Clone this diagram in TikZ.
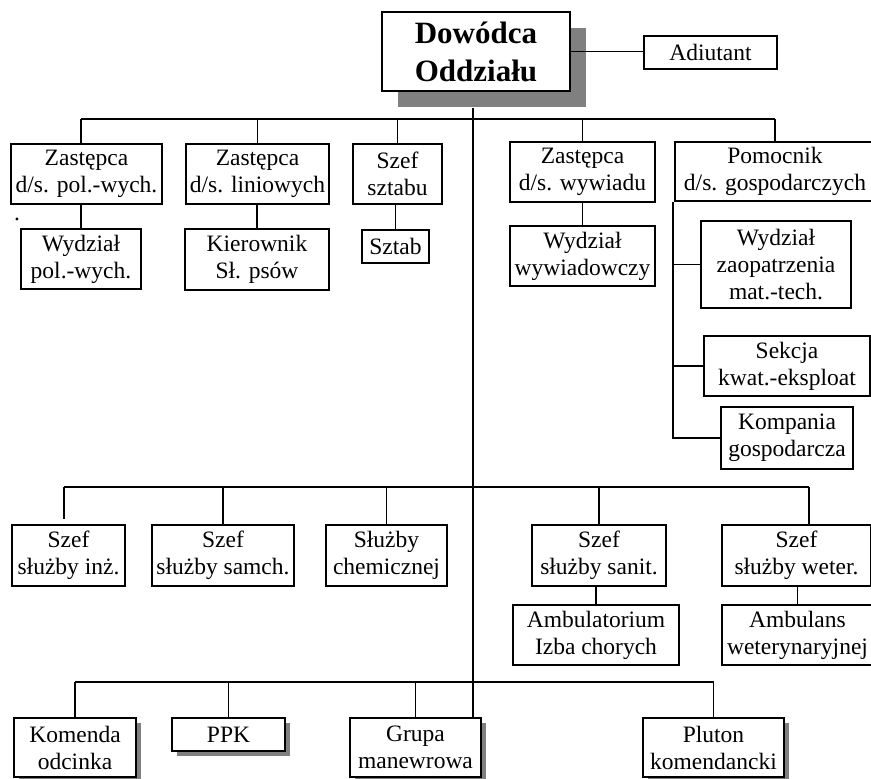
\documentclass[tikz,border=0pt]{standalone}
\usepackage{fontspec}
\setmainfont{Liberation Serif}
\usepackage{tikz}
\usetikzlibrary{shadows}

\begin{document}
\begin{tikzpicture}[x=1pt,y=-1pt,
  box/.style 2 args={draw, line width=1.9pt, fill=white, align=center, inner sep=0pt,
    minimum width=#1pt, minimum height=#2pt, font=\fontsize{23.5}{27}\selectfont},
  bigshade/.style={drop shadow={shadow xshift=16pt, shadow yshift=-16pt, fill=gray, opacity=1}},
  smallshade/.style={drop shadow={shadow xshift=5pt, shadow yshift=-5pt, fill=gray, opacity=1}},
  bus/.style={line width=2pt},
  link/.style={line width=1.7pt},
  mainline/.style={line width=1.4pt}]
\useasboundingbox (0,0) rectangle (871,779);
\node[box={188}{79}, bigshade, font=\bfseries\fontsize{31}{38}\selectfont] (dow) at (476,51.5) {Dowódca\\Oddziału};
\node[box={133}{33}] (adj) at (710.5,52.5) {Adiutant};
\node[box={151}{60}] (zpw) at (86.5,174) {Zastępca\\d/s. pol.-wych.};
\node[box={143}{60}] (zlin) at (257.5,174) {Zastępca\\d/s. liniowych};
\node[box={89}{60}] (szs) at (397.5,174) {Szef\\sztabu};
\node[box={145}{60}] (zwyw) at (582.5,172) {Zastępca\\d/s. wywiadu};
\node[box={200}{59}] (pom) at (775,171.5) {Pomocnik\\d/s. gospodarczych};
\node[font=\fontsize{23.5}{27}\selectfont, inner sep=0pt] (dot) at (17,219) {.};
\node[box={120}{60}] (wpw) at (81,259) {Wydział\\pol.-wych.};
\node[box={144}{61}] (kier) at (257,259.5) {Kierownik\\Sł. psów};
\node[box={67}{33}] (sztab) at (395.5,246.5) {Sztab};
\node[box={145}{60}] (wwyw) at (582.5,256) {Wydział\\wywiadowczy};
\node[box={150}{87}] (wzao) at (776,264.5) {Wydział\\zaopatrzenia\\mat.-tech.};
\node[box={166}{60}] (sekc) at (787,366) {Sekcja\\kwat.-eksploat};
\node[box={132}{62}] (komp) at (787,438) {Kompania\\gospodarcza};
\node[box={113}{61}] (inz) at (68.5,555.5) {Szef\\służby inż.};
\node[box={142}{61}] (samch) at (223,555.5) {Szef\\służby samch.};
\node[box={121}{61}] (chem) at (386.5,555.5) {Służby\\chemicznej};
\node[box={134}{61}] (sanit) at (599,555.5) {Szef\\służby sanit.};
\node[box={149}{61}] (weter) at (796.5,555.5) {Szef\\służby weter.};
\node[box={166}{60}] (ambt) at (596,635) {Ambulatorium\\Izba chorych};
\node[box={151}{60}] (ambw) at (797.5,635) {Ambulans\\weterynaryjnej};
\node[box={122}{59}, smallshade] (kom) at (75,747.5) {Komenda\\odcinka};
\node[box={113}{33}, smallshade] (ppk) at (228.5,734.5) {PPK};
\node[box={131}{59}, smallshade] (grupa) at (415.5,747.5) {Grupa\\manewrowa};
\node[box={141}{59}, smallshade] (pluton) at (713.5,747.5) {Pluton\\komendancki};

\coordinate (bus1) at (0,119);
\coordinate (bus2) at (0,487);
\coordinate (bus3) at (0,682);
\coordinate (mtop) at ([xshift=-3pt,yshift=-16pt]dow.south);
\coordinate (itop) at ([xshift=-4.5pt]inz.north);
\coordinate (wtop) at ([xshift=12.5pt]weter.north);

\draw[link] (dow.east) -- (dow.east -| adj.west);
\draw[mainline] (mtop) -- (mtop |- grupa.north);

\draw[bus] (wpw.north |- bus1) -- (pom.north |- bus1);
\draw[link] (wpw.north |- bus1) -- (wpw.north |- zpw.north);
\draw[link] (wpw.north |- zpw.south) -- (wpw.north);
\foreach \n in {zlin,szs,zwyw,pom} \draw[link] (\n.north |- bus1) -- (\n.north);
\foreach \a/\b in {zlin/kier,szs/sztab,zwyw/wwyw} \draw[link] (\b.north |- \a.south) -- (\b.north);
\draw[link] ([xshift=-1pt]pom.south west) |- (komp.west);
\foreach \n in {wzao,sekc} \draw[link] ([xshift=-1pt]pom.south west |- \n.west) -- (\n.west);

\draw[bus] (itop |- bus2) -- (wtop |- bus2);
\draw[link, shorten >=5pt] (itop |- bus2) -- (itop);
\draw[link] (wtop |- bus2) -- (wtop);
\foreach \n in {samch,chem,sanit} \draw[link] (\n.north |- bus2) -- (\n.north);
\foreach \a/\b in {sanit/ambt,weter/ambw} \draw[link] (\b.north |- \a.south) -- (\b.north);

\draw[bus] (kom.north |- bus3) -- (pluton.north |- bus3);
\foreach \n in {kom,ppk,grupa,pluton} \draw[link] (\n.north |- bus3) -- (\n.north);
\end{tikzpicture}
\end{document}
